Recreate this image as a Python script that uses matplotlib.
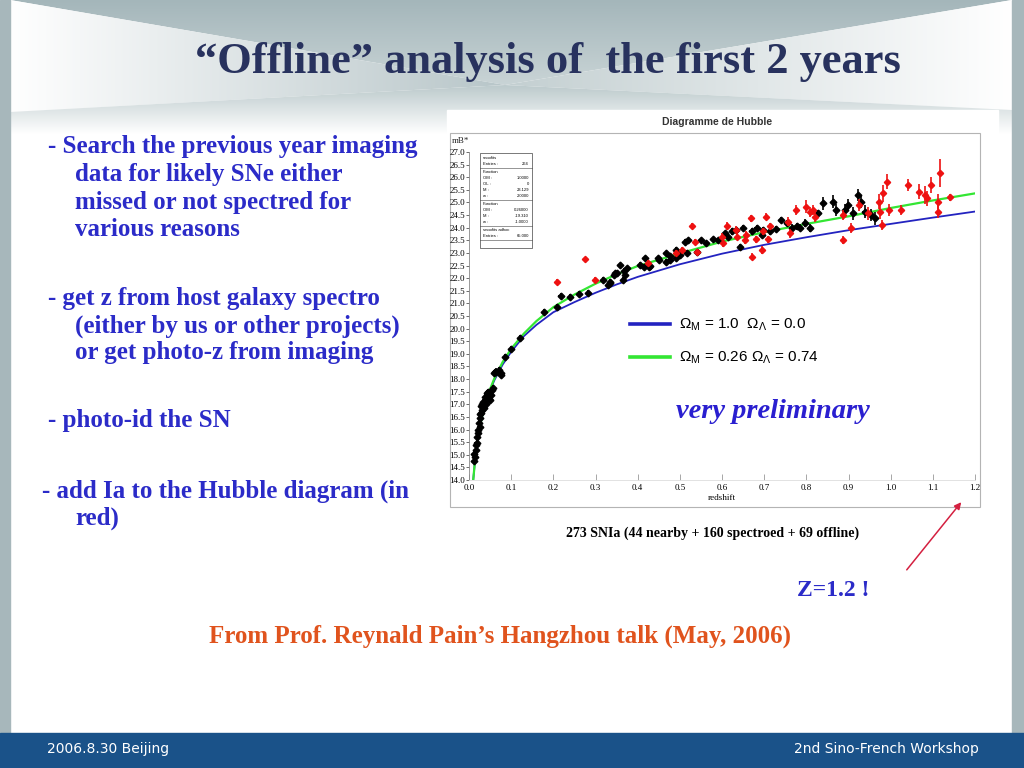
import numpy as np
import matplotlib
matplotlib.use('Agg')
import matplotlib.pyplot as plt
from matplotlib.patches import Polygon, Rectangle, FancyArrowPatch
from matplotlib.colors import to_rgb

plt.rcParams['mathtext.fontset'] = 'custom'
plt.rcParams['mathtext.rm'] = 'Liberation Sans'
plt.rcParams['mathtext.it'] = 'Liberation Sans:italic'

# model curves
curve_z = [0.010, 0.015, 0.02, 0.03, 0.04, 0.05, 0.06, 0.08, 0.10, 0.13, 0.16, 0.20,
           0.25, 0.30, 0.35, 0.40, 0.50, 0.60, 0.70, 0.80, 0.90, 1.00, 1.10, 1.20]
curve_om1 = [14.0, 14.9, 15.55, 16.43, 17.05, 17.55, 17.95, 18.58, 19.08, 19.7, 20.15, 20.65,
             21.05, 21.42, 21.75, 22.05, 22.55, 22.97, 23.32, 23.62, 23.9, 24.15, 24.4, 24.64]
curve_lcdm = [14.0, 14.9, 15.55, 16.45, 17.1, 17.6, 18.02, 18.68, 19.2, 19.8, 20.3, 20.85,
              21.35, 21.78, 22.15, 22.48, 22.98, 23.45, 23.82, 24.15, 24.45, 24.78, 25.08, 25.36]

# black: nearby + spectroscopically confirmed SNe
black_z = [0.012, 0.013, 0.014, 0.0166, 0.016, 0.018, 0.020, 0.021, 0.022, 0.024, 0.025, 0.026,
           0.027, 0.028, 0.029, 0.030, 0.031, 0.033, 0.034, 0.036, 0.038, 0.040, 0.042, 0.044,
           0.045, 0.047, 0.048, 0.050, 0.052, 0.054, 0.056, 0.060, 0.062, 0.065, 0.070, 0.075,
           0.077, 0.085, 0.099, 0.122, 0.178, 0.209, 0.217, 0.239, 0.261, 0.283,
           0.318, 0.330, 0.334, 0.335, 0.344, 0.346, 0.350, 0.358, 0.366, 0.370, 0.367, 0.374,
           0.405, 0.415, 0.417, 0.428, 0.429, 0.449, 0.451, 0.468, 0.468, 0.476, 0.476, 0.492,
           0.492, 0.500, 0.512, 0.516, 0.520, 0.540, 0.551, 0.563, 0.579, 0.591, 0.607, 0.615,
           0.623, 0.634, 0.642, 0.650, 0.670, 0.682, 0.694, 0.698, 0.713, 0.729, 0.741, 0.753,
           0.765, 0.777, 0.785, 0.797, 0.808, 0.828, 0.840, 0.863, 0.871, 0.891, 0.899, 0.911,
           0.922, 0.930, 0.938, 0.954, 0.962]
black_m = [14.75, 15.05, 14.92, 15.19, 15.40, 15.45, 15.70, 15.85, 15.98, 16.25, 16.10, 16.45,
           16.60, 16.64, 16.95, 16.77, 17.00, 16.90, 17.10, 16.85, 17.30, 17.00, 17.44, 17.30,
           17.50, 17.20, 17.45, 17.17, 17.35, 17.57, 17.65, 18.25, 18.29, 18.30, 18.35, 18.15,
           18.23, 18.89, 19.19, 19.61, 20.64, 20.84, 21.29, 21.24, 21.37, 21.42,
           21.93, 21.73, 21.80, 21.85, 22.13, 22.19, 22.20, 22.52, 21.93, 22.13, 22.30, 22.40,
           22.54, 22.45, 22.79, 22.45, 22.50, 22.79, 22.70, 22.98, 22.65, 22.72, 22.86, 23.12,
           22.80, 22.90, 23.45, 23.00, 23.51, 23.05, 23.51, 23.38, 23.54, 23.51, 23.78, 23.65,
           23.85, 23.92, 23.25, 23.98, 23.85, 24.00, 23.70, 23.90, 23.85, 23.95, 24.30, 24.18,
           24.00, 24.05, 24.00, 24.18, 23.98, 24.57, 24.97, 25.03, 24.70, 24.70, 24.90, 24.57,
           25.30, 25.03, 24.63, 24.50, 24.37]
black_err = [0.12] * 46 + [0.10] * 36 + [0.12] * 12 + [0.15] * 6 + [0.25] * 11

# red: SNe added by the offline analysis
red_z = [0.209, 0.275, 0.299, 0.425, 0.492, 0.504, 0.528, 0.536, 0.540, 0.601, 0.603, 0.611,
         0.633, 0.635, 0.654, 0.658, 0.668, 0.670, 0.681, 0.694, 0.698, 0.705, 0.709, 0.713,
         0.757, 0.761, 0.776, 0.800, 0.808, 0.816, 0.820, 0.887, 0.887, 0.906, 0.925, 0.946,
         0.972, 0.974, 0.980, 0.982, 0.991, 0.996, 1.024, 1.041, 1.067, 1.081, 1.085, 1.095,
         1.112, 1.112, 1.116, 1.141]
red_m = [21.86, 22.75, 21.93, 22.61, 23.00, 23.10, 24.07, 23.45, 23.05, 23.65, 23.38, 24.07,
         23.91, 23.65, 23.51, 23.72, 24.37, 22.85, 23.54, 23.12, 23.85, 24.44, 23.54, 24.05,
         24.24, 23.78, 24.70, 24.83, 24.63, 24.70, 24.44, 24.50, 23.51, 24.00, 24.90, 24.57,
         25.03, 24.63, 24.10, 25.36, 25.82, 24.70, 24.70, 25.69, 25.43, 25.30, 25.17, 25.69,
         24.63, 25.03, 26.16, 25.20]
red_err = [0.10, 0.10, 0.10, 0.12, 0.12, 0.12, 0.12, 0.12, 0.12, 0.15, 0.15, 0.15,
           0.15, 0.15, 0.15, 0.15, 0.15, 0.15, 0.15, 0.15, 0.15, 0.15, 0.15, 0.15,
           0.18, 0.18, 0.20, 0.25, 0.20, 0.20, 0.20, 0.20, 0.15, 0.20, 0.25, 0.25,
           0.30, 0.30, 0.20, 0.35, 0.30, 0.25, 0.20, 0.25, 0.30, 0.35, 0.30, 0.30,
           0.25, 0.30, 0.55, 0.15]

bullets = [
    (48, 146, "- Search the previous year imaging"),
    (75, 174, "data for likely SNe either"),
    (75, 202, "missed or not spectred for"),
    (75, 229, "various reasons"),
    (48, 298, "- get z from host galaxy spectro"),
    (75, 326, "(either by us or other projects)"),
    (75, 353, "or get photo-z from imaging"),
    (48, 420, "- photo-id the SN"),
    (42, 491, "- add Ia to the Hubble diagram (in"),
    (75, 518, "red)"),
]

W, H = 1024, 768
fig = plt.figure(figsize=(W / 100, H / 100), dpi=100)
bg = fig.add_axes([0, 0, 1, 1])
bg.axis('off')


def gradient(ax, verts, c_from, c_to, horizontal=True, z=1):
    poly = Polygon(verts, closed=True, facecolor='none', edgecolor='none')
    ax.add_patch(poly)
    xs = [v[0] for v in verts]
    ys = [v[1] for v in verts]
    t = np.linspace(0, 1, 256)
    c1 = np.array(to_rgb(c_from))
    c2 = np.array(to_rgb(c_to))
    cols = c1[None, :] * (1 - t)[:, None] + c2[None, :] * t[:, None]
    img = cols[None, :, :] if horizontal else cols[:, None, :]
    im = ax.imshow(img, extent=(min(xs), max(xs), max(ys), min(ys)),
                   aspect='auto', zorder=z, interpolation='bilinear')
    im.set_clip_path(poly)


# slide background
gradient(bg, [(10, 0), (1012, 0), (505, 85)], '#a4b6ba', '#c9d4d6', horizontal=False)
gradient(bg, [(10, 0), (505, 85), (10, 112)], '#ffffff', '#b8c6c9')
gradient(bg, [(1012, 0), (505, 85), (1012, 110)], '#c3cfd1', '#ffffff')
gradient(bg, [(10, 112), (505, 85), (1012, 110), (1012, 134), (10, 134)],
         '#bccacc', '#ffffff', horizontal=False)
bg.add_patch(Rectangle((0, 0), 10, 733, color='#a7b7bb', zorder=2))
bg.add_patch(Rectangle((1012, 0), 12, 733, color='#a7b7bb', zorder=2))
bg.add_patch(Rectangle((0, 733), W, 35, color='#1a5289', zorder=2))

bg.text(47, 749, "2006.8.30 Beijing", color='white', fontsize=10,
        family='DejaVu Sans', va='center', ha='left', zorder=6)
bg.text(979, 749, "2nd Sino-French Workshop", color='white', fontsize=10,
        family='DejaVu Sans', va='center', ha='right', zorder=6)

bg.text(548, 62, "\u201cOffline\u201d analysis of  the first 2 years", color='#28325e',
        fontsize=32, family='Liberation Serif', weight='bold', ha='center', va='center', zorder=6)

for x, y, s in bullets:
    bg.text(x, y, s, color='#2b2bc8', fontsize=18, family='Liberation Serif',
            weight='bold', ha='left', va='center', zorder=6)

# white picture of the Hubble diagram
bg.add_patch(Rectangle((447, 110), 551, 438, color='white', zorder=3))
bg.add_patch(Rectangle((450, 133), 530, 374, facecolor='none', edgecolor='#b4b4b4',
                       lw=0.8, zorder=4))
bg.text(717, 122, "Diagramme de Hubble", fontsize=7.5, family='Liberation Sans',
        weight='bold', color='#333333', ha='center', va='center', zorder=6)
bg.text(452, 141, "mB*", fontsize=6.5, family='Liberation Serif', color='#222222',
        ha='left', va='center', zorder=6)

# stats box
bg.add_patch(Rectangle((480, 153), 52, 95, facecolor='white', edgecolor='#444444',
                       lw=0.5, zorder=6))
stats = [
    [("snoofits", ""), ("Entries :", "264")],
    [("Function", ""), ("OM :", "1.0000"), ("OL :", "0"), ("M :", "23.129"), ("w :", "2.0000")],
    [("Function", ""), ("OM :", "0.26000"), ("M :", "-19.310"), ("w :", "-1.0000")],
    [("snoofits adhoc", ""), ("Entries :", "65.000")],
]
yy = 158
for block in stats:
    for lab, val in block:
        bg.text(483, yy, lab, fontsize=3, family='Liberation Sans', ha='left',
                va='center', zorder=7)
        bg.text(529, yy, val, fontsize=3, family='Liberation Sans', ha='right',
                va='center', zorder=7)
        yy += 6
    bg.plot([480, 532], [yy - 2.5, yy - 2.5], color='#444444', lw=0.4, zorder=7)
    yy += 2

# legend of the models
bg.plot([630, 670], [324, 324], color='#2323c0', lw=2.6, zorder=6)
bg.plot([630, 670], [357, 357], color='#33e633', lw=2.6, zorder=6)
bg.text(679, 325, r"$\Omega_\mathrm{M}$ = 1.0  $\Omega_\Lambda$ = 0.0", fontsize=11,
        family='Liberation Sans', ha='left', va='center', zorder=6)
bg.text(679, 358, r"$\Omega_\mathrm{M}$ = 0.26 $\Omega_\Lambda$ = 0.74", fontsize=11,
        family='Liberation Sans', ha='left', va='center', zorder=6)

bg.text(773, 412, "very preliminary", color='#2a1fd0', fontsize=20.5,
        family='Liberation Serif', weight='bold', style='italic', ha='center',
        va='center', zorder=6)
bg.text(713, 533, "273 SNIa (44 nearby + 160 spectroed + 69 offline)", fontsize=10,
        family='Liberation Serif', weight='bold', ha='center', va='center', zorder=6)
bg.text(833, 590, "Z=1.2 !", color='#2b2bc8', fontsize=17, family='Liberation Serif',
        weight='bold', ha='center', va='center', zorder=6)
bg.text(500, 636, "From Prof. Reynald Pain\u2019s Hangzhou talk (May, 2006)", color='#e0531d',
        fontsize=18, family='Liberation Serif', weight='bold', ha='center',
        va='center', zorder=6)
bg.add_patch(FancyArrowPatch((905, 572), (963, 500), arrowstyle='-|>', mutation_scale=10,
                             color='#d42040', lw=1.1, zorder=6))

bg.set_xlim(0, W)
bg.set_ylim(H, 0)

# Hubble diagram
ax = fig.add_axes([469 / W, 1 - 480 / H, (975 - 469) / W, (480 - 152) / H])
ax.set_facecolor('none')
ax.plot(curve_z, curve_om1, color='#2323c0', lw=1.3, zorder=2)
ax.plot(curve_z, curve_lcdm, color='#33e633', lw=1.6, zorder=2)
ax.errorbar(black_z, black_m, yerr=black_err, xerr=0.005, fmt='D', color='black',
            ms=3.4, elinewidth=1.2, capsize=0, zorder=3)
ax.errorbar(red_z, red_m, yerr=red_err, fmt='D', color='#ee1111', ms=3.2,
            elinewidth=1.2, capsize=0, zorder=4)

ax.set_xlim(0, 1.2)
ax.set_ylim(14, 27)
ax.set_xticks(np.arange(0, 1.21, 0.1))
ax.set_yticks(np.arange(14, 27.01, 0.5))
ax.xaxis.set_major_formatter(matplotlib.ticker.FormatStrFormatter('%.1f'))
ax.yaxis.set_major_formatter(matplotlib.ticker.FormatStrFormatter('%.1f'))
ax.tick_params(axis='y', direction='out', length=2.5, width=0.6, labelsize=6.5, pad=0.5,
               color='#555555')
ax.tick_params(axis='x', direction='in', length=4, width=0.6, labelsize=6.5, pad=3,
               color='#999999')
for lab in ax.get_xticklabels() + ax.get_yticklabels():
    lab.set_family('Liberation Serif')
ax.spines['top'].set_visible(False)
ax.spines['right'].set_visible(False)
ax.spines['left'].set_color('#888888')
ax.spines['left'].set_linewidth(0.6)
ax.spines['bottom'].set_color('#dddddd')
ax.spines['bottom'].set_linewidth(0.6)
ax.set_xlabel('redshift', fontsize=6.5, family='Liberation Serif', labelpad=1)

fig.savefig('out.png', dpi=100)
